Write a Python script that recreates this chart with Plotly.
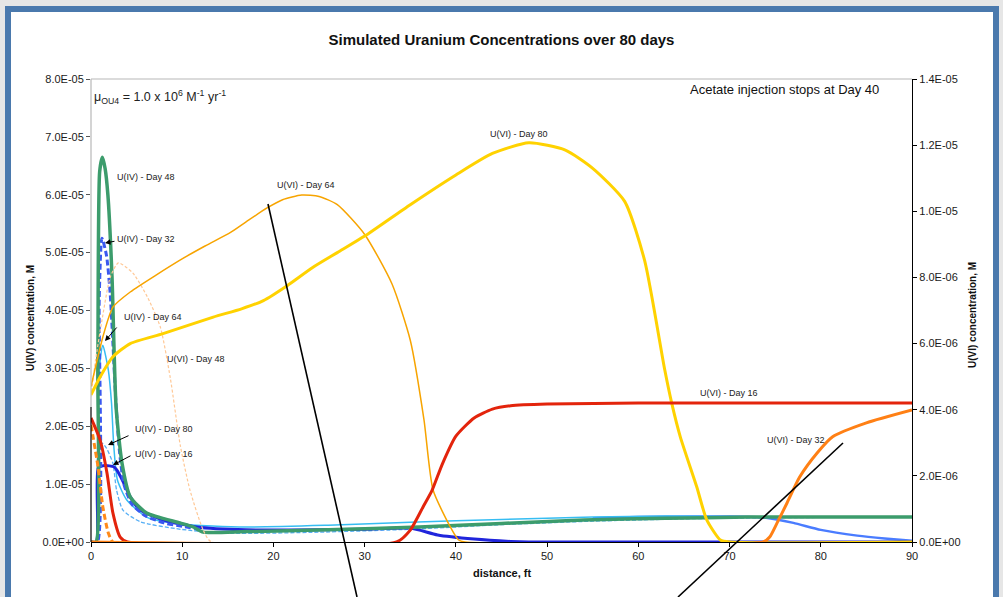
"""Simulated uranium concentrations over 80 days: U(IV) and U(VI) profiles
along the flow path, U(IV) on the left axis and U(VI) on the right axis."""

from __future__ import annotations

import plotly.graph_objects as go

# ---------------------------------------------------------------------------
# Data.
# U(IV) values in units of 1e-5 M (left axis), U(VI) in units of 1e-6 M (right).
# ---------------------------------------------------------------------------
U4_UNIT = 1e-5
U6_UNIT = 1e-6

u4_day48_x = [0, 0.55, 0.75, 0.95, 1.25, 1.55, 1.85, 2.3, 2.75, 3.4, 4.3, 6.1,
              9.75, 11.2, 12.3, 17, 26, 36, 45, 54, 63, 72, 81, 90]
u4_day48_y = [0, 0, 3.0, 6.4, 6.65, 6.45, 6.0, 4.6, 2.33, 1.36, 0.78, 0.50,
              0.33, 0.26, 0.17, 0.18, 0.21, 0.26, 0.32, 0.38, 0.41, 0.43, 0.43, 0.43]

u4_day32_x = [0, 0.7, 0.9, 1.2, 1.7, 2.1, 2.4, 2.7, 3.1, 3.6, 4.5, 6, 8, 10, 12]
u4_day32_y = [0, 0, 4.2, 5.25, 4.95, 4.3, 3.44, 2.5, 1.6, 1.0, 0.65, 0.45, 0.33,
              0.27, 0.22]
# far field part of the same blue profile (drawn solid in the reference)
u4_day32_far_x = [55, 60, 66, 70, 74, 77, 80, 84, 87, 90]
u4_day32_far_y = [0.41, 0.43, 0.44, 0.44, 0.42, 0.33, 0.21, 0.11, 0.06, 0.02]

u4_day64_x = [0, 0.55, 0.75, 1.05, 1.3, 1.9, 2.25, 2.5, 2.9, 3.9, 6.1, 9.8, 17,
              26, 35, 45, 55, 63, 70, 75, 80, 90]
u4_day64_y = [0, 0, 2.4, 3.2, 3.4, 2.97, 2.4, 1.65, 1.07, 0.73, 0.43, 0.31, 0.26,
              0.29, 0.34, 0.39, 0.43, 0.45, 0.44, 0.43, 0.43, 0.43]

u4_day80_x = [0, 0.5, 0.75, 1.2, 1.7, 2.4, 2.8, 3.5, 5.4, 9.8, 15, 25, 35, 45,
              55, 65, 75, 90]
u4_day80_y = [0, 0, 1.5, 1.71, 1.62, 1.36, 0.9, 0.55, 0.35, 0.22, 0.15, 0.17,
              0.22, 0.30, 0.36, 0.40, 0.42, 0.43]

u4_day16_x = [0, 0.6, 0.8, 1.5, 2.5, 2.8, 3.5, 4.3, 5.4, 7.9, 11.6, 17, 25, 30,
              35, 38, 42, 46, 48, 90]
u4_day16_y = [0, 0, 1.28, 1.32, 1.3, 1.25, 1.05, 0.78, 0.55, 0.38, 0.26, 0.21,
              0.21, 0.22, 0.24, 0.12, 0.05, 0.01, 0, 0]

u6_day16_x = [0, 1.0, 1.75, 2.4, 3.2, 4.0, 33.5, 35, 36.4, 37.4, 38.5, 40, 42,
              44, 46, 50, 60, 70, 80, 90]
u6_day16_y = [3.75, 3.08, 2.09, 0.88, 0.15, 0, 0, 0.36, 1.06, 1.57, 2.35, 3.2,
              3.75, 4.02, 4.12, 4.17, 4.2, 4.2, 4.2, 4.2]

u6_day32_x = [0, 73.7, 74.4, 75.2, 76.3, 77.7, 79.6, 81.3, 85, 90]
u6_day32_y = [0, 0, 0.15, 0.57, 1.18, 1.97, 2.69, 3.18, 3.6, 3.99]
# near-well part (dashed orange in the reference)
u6_day32_near_x = [0, 0.77, 1.3, 1.9, 2.4, 4]
u6_day32_near_y = [3.54, 2.27, 1.06, 0.27, 0, 0]

u6_day48_x = [0, 0.5, 1.2, 2.1, 3.0, 4.6, 6.2, 7.6, 8.7, 9.8, 10.85, 12.3, 13.2, 90]
u6_day48_y = [4.4, 5.5, 6.7, 8.0, 8.44, 8.13, 7.4, 6.5, 4.95, 2.9, 1.57, 0.36, 0, 0]

u6_day64_x = [0, 1.3, 2.4, 4.3, 9.8, 12.5, 15.3, 17, 19.3, 21, 23.1, 25, 27, 30,
              33, 35, 36.5, 37.5, 39.4, 40.3, 41, 90]
u6_day64_y = [4.7, 6.2, 7.1, 7.56, 8.53, 8.95, 9.36, 9.68, 10.1, 10.35, 10.49,
              10.45, 10.2, 9.3, 7.8, 6.1, 3.7, 1.57, 0.45, 0.06, 0, 0]

u6_day80_x = [0, 1.0, 2.4, 4.3, 7.9, 13.4, 16.5, 18.9, 21.5, 24.3, 27, 30, 35,
              40, 44, 48, 52, 55, 58.5, 60.7, 62.9, 63.66, 64.6, 66.4, 67.5, 69,
              70, 90]
u6_day80_y = [4.45, 4.99, 5.6, 6.0, 6.3, 6.8, 7.05, 7.3, 7.75, 8.3, 8.75, 9.25,
              10.2, 11.1, 11.75, 12.07, 11.85, 11.3, 10.3, 8.5, 5.2, 4.2, 3.18,
              1.67, 0.67, 0.06, 0, 0]

x_ticks = [0, 10, 20, 30, 40, 50, 60, 70, 80, 90]
u4_tick_vals = [0, 1e-5, 2e-5, 3e-5, 4e-5, 5e-5, 6e-5, 7e-5, 8e-5]
u4_tick_text = ["0.0E+00", "1.0E-05", "2.0E-05", "3.0E-05", "4.0E-05",
                "5.0E-05", "6.0E-05", "7.0E-05", "8.0E-05"]
u6_tick_vals = [0, 2e-6, 4e-6, 6e-6, 8e-6, 1e-5, 1.2e-5, 1.4e-5]
u6_tick_text = ["0.0E+00", "2.0E-06", "4.0E-06", "6.0E-06", "8.0E-06",
                "1.0E-05", "1.2E-05", "1.4E-05"]

FONT = "Liberation Sans, Arial, sans-serif"
FRAME_BLUE = "#4a79ad"

# Plot area in window pixels (1003 x 597 window)
PLOT_L, PLOT_R, PLOT_T, PLOT_B = 91, 912, 79, 542


def px_to_paper(px: float, py: float) -> tuple[float, float]:
    """Window pixel -> paper coordinates of the plot area."""
    return (px - PLOT_L) / (PLOT_R - PLOT_L), (PLOT_B - py) / (PLOT_B - PLOT_T)


def add_curve(fig, xs, ys, unit, axis, color, width, dash="solid", name=""):
    """Add one concentration profile."""
    fig.add_trace(
        go.Scatter(
            x=xs,
            y=[v * unit for v in ys],
            mode="lines",
            name=name,
            yaxis=axis,
            line={"color": color, "width": width, "dash": dash,
                  "shape": "spline", "smoothing": 0.6},
            showlegend=False,
            hoverinfo="skip",
        )
    )


def add_label(fig, px, py, text, size=9):
    x, y = px_to_paper(px, py)
    fig.add_annotation(
        xref="paper", yref="paper", x=x, y=y, xanchor="left", yanchor="middle",
        text=text, showarrow=False, font={"family": FONT, "size": size, "color": "#222"},
    )


def add_arrow(fig, head_px, head_py, tail_px, tail_py):
    x, y = px_to_paper(head_px, head_py)
    fig.add_annotation(
        xref="paper", yref="paper", x=x, y=y, text="", showarrow=True,
        ax=tail_px - head_px, ay=tail_py - head_py, axref="pixel", ayref="pixel",
        arrowhead=2, arrowsize=1.1, arrowwidth=1, arrowcolor="black", standoff=0,
    )


fig = go.Figure()

# U(VI) profiles (right axis)
add_curve(fig, u6_day48_x, u6_day48_y, U6_UNIT, "y2", "#ffc896", 1.2, "3px,2px", "U(VI) - Day 48")
add_curve(fig, u6_day64_x, u6_day64_y, U6_UNIT, "y2", "#f7a400", 1.5, name="U(VI) - Day 64")
add_curve(fig, u6_day80_x, u6_day80_y, U6_UNIT, "y2", "#ffd200", 3, name="U(VI) - Day 80")
add_curve(fig, u6_day16_x, u6_day16_y, U6_UNIT, "y2", "#e3240c", 3, name="U(VI) - Day 16")
add_curve(fig, u6_day32_x, u6_day32_y, U6_UNIT, "y2", "#ff8015", 3, name="U(VI) - Day 32")
add_curve(fig, u6_day32_near_x, u6_day32_near_y, U6_UNIT, "y2", "#ff8a1a", 3, "6px,3px")

# U(IV) profiles (left axis)
add_curve(fig, u4_day80_x, u4_day80_y, U4_UNIT, "y", "#55aef5", 1.3, "4px,2px", "U(IV) - Day 80")
add_curve(fig, u4_day32_far_x, u4_day32_far_y, U4_UNIT, "y", "#4a7cff", 2.5)
add_curve(fig, u4_day64_x, u4_day64_y, U4_UNIT, "y", "#36bdf2", 1.5, name="U(IV) - Day 64")
add_curve(fig, u4_day16_x, u4_day16_y, U4_UNIT, "y", "#2025dc", 3, name="U(IV) - Day 16")
add_curve(fig, u4_day32_x, u4_day32_y, U4_UNIT, "y", "#3a58f0", 3, "6px,3px", "U(IV) - Day 32")
add_curve(fig, u4_day48_x, u4_day48_y, U4_UNIT, "y", "#3c9c6c", 3.5, name="U(IV) - Day 48")

# Curve labels
add_label(fig, 115, 177, "U(IV) - Day 48")
add_label(fig, 115, 239, "U(IV) - Day 32")
add_label(fig, 122, 317, "U(IV) - Day 64")
add_label(fig, 165, 359, "U(VI) - Day 48")
add_label(fig, 133, 429, "U(IV) - Day 80")
add_label(fig, 133, 454, "U(IV) - Day 16")
add_label(fig, 275, 185, "U(VI) - Day 64")
add_label(fig, 488, 134, "U(VI) - Day 80")
add_label(fig, 698, 393, "U(VI) - Day 16")
add_label(fig, 765, 440, "U(VI) - Day 32")
add_label(fig, 92, 97,
          "μ<sub>OU4</sub> = 1.0 x 10<sup>6</sup> M<sup>-1</sup> yr<sup>-1</sup>", 12.5)
x_a, y_a = px_to_paper(881, 89)
fig.add_annotation(
    xref="paper", yref="paper", x=x_a, y=y_a, xanchor="right", yanchor="middle",
    text="Acetate injection stops at Day 40", showarrow=False,
    font={"family": FONT, "size": 13, "color": "#111"},
)

add_arrow(fig, 105, 243, 116, 241)
add_arrow(fig, 105, 341, 118, 326)
add_arrow(fig, 108, 445, 130, 435)
add_arrow(fig, 113, 465, 132, 455)

# Axis titles
for px, py, text, angle in (
    (30, 318, "U(IV) concentration, M", -90),
    (972, 315, "U(VI) concentration, M", -90),
    (502, 573, "distance, ft", 0),
):
    x_t, y_t = px_to_paper(px, py)
    fig.add_annotation(
        xref="paper", yref="paper", x=x_t, y=y_t, xanchor="center", yanchor="middle",
        text=f"<b>{text}</b>", textangle=angle, showarrow=False,
        font={"family": FONT, "size": 10 if angle else 11, "color": "#111"},
    )

# Frame of the slide, plot border and leader lines
fx0, fy0 = px_to_paper(8, 600)
fx1, fy1 = px_to_paper(996, 9)
split_y = px_to_paper(0, 407)[1]
leader_a = px_to_paper(268, 204) + px_to_paper(357, 597)
leader_b = px_to_paper(843, 443) + px_to_paper(678, 597)
fig.update_layout(
    shapes=[
        {"type": "rect", "xref": "paper", "yref": "paper", "x0": fx0, "y0": fy0,
         "x1": fx1, "y1": fy1, "fillcolor": "white",
         "line": {"color": FRAME_BLUE, "width": 6}, "layer": "below"},
        {"type": "line", "xref": "paper", "yref": "paper", "x0": 0, "x1": 1,
         "y0": 1, "y1": 1, "line": {"color": "#b8b8b8", "width": 1.2}},
        {"type": "line", "xref": "paper", "yref": "paper", "x0": 0, "x1": 0,
         "y0": split_y, "y1": 1, "line": {"color": "#b8b8b8", "width": 1.2}},
        {"type": "line", "xref": "paper", "yref": "paper", "x0": 0, "x1": 0,
         "y0": 0, "y1": split_y, "line": {"color": "black", "width": 1.2}},
        {"type": "line", "xref": "paper", "yref": "paper", "x0": leader_a[0],
         "y0": leader_a[1], "x1": leader_a[2], "y1": leader_a[3],
         "line": {"color": "black", "width": 1.6}},
        {"type": "line", "xref": "paper", "yref": "paper", "x0": leader_b[0],
         "y0": leader_b[1], "x1": leader_b[2], "y1": leader_b[3],
         "line": {"color": "black", "width": 1.6}},
    ]
)

tick_font = {"family": FONT, "size": 11, "color": "#1a1a1a"}
fig.update_layout(
    width=1003,
    height=597,
    margin={"l": PLOT_L, "r": 1003 - PLOT_R, "t": PLOT_T, "b": 597 - PLOT_B},
    paper_bgcolor="#e6e6e6",
    plot_bgcolor="rgba(0,0,0,0)",
    title={
        "text": "<b>Simulated Uranium Concentrations over 80 days</b>",
        "x": 0.5, "xanchor": "center", "y": 1 - 40 / 597, "yanchor": "middle",
        "font": {"family": FONT, "size": 15, "color": "#111"},
    },
    xaxis={
        "range": [0, 90], "tickvals": x_ticks, "ticks": "outside", "ticklen": 4,
        "tickcolor": "black", "showline": True, "linecolor": "black",
        "linewidth": 1.2, "showgrid": False, "zeroline": False,
        "tickfont": tick_font,
    },
    yaxis={
        "range": [0, 8e-5], "tickvals": u4_tick_vals, "ticktext": u4_tick_text,
        "ticks": "outside", "ticklen": 4, "tickcolor": "#555",
        "showline": False, "showgrid": False, "zeroline": False,
        "tickfont": tick_font,
    },
    yaxis2={
        "range": [0, 1.4e-5], "tickvals": u6_tick_vals, "ticktext": u6_tick_text,
        "overlaying": "y", "side": "right", "ticks": "outside", "ticklen": 4,
        "tickcolor": "black", "showline": True, "linecolor": "black",
        "linewidth": 1.2, "showgrid": False, "zeroline": False,
        "tickfont": tick_font,
    },
)

# The page body keeps its default 8px margin; drop it so the figure fills the window.
fig.write_html(
    "out.html",
    config={"displayModeBar": False},
    post_script="document.body.style.margin='0';document.body.style.overflow='hidden';",
)
